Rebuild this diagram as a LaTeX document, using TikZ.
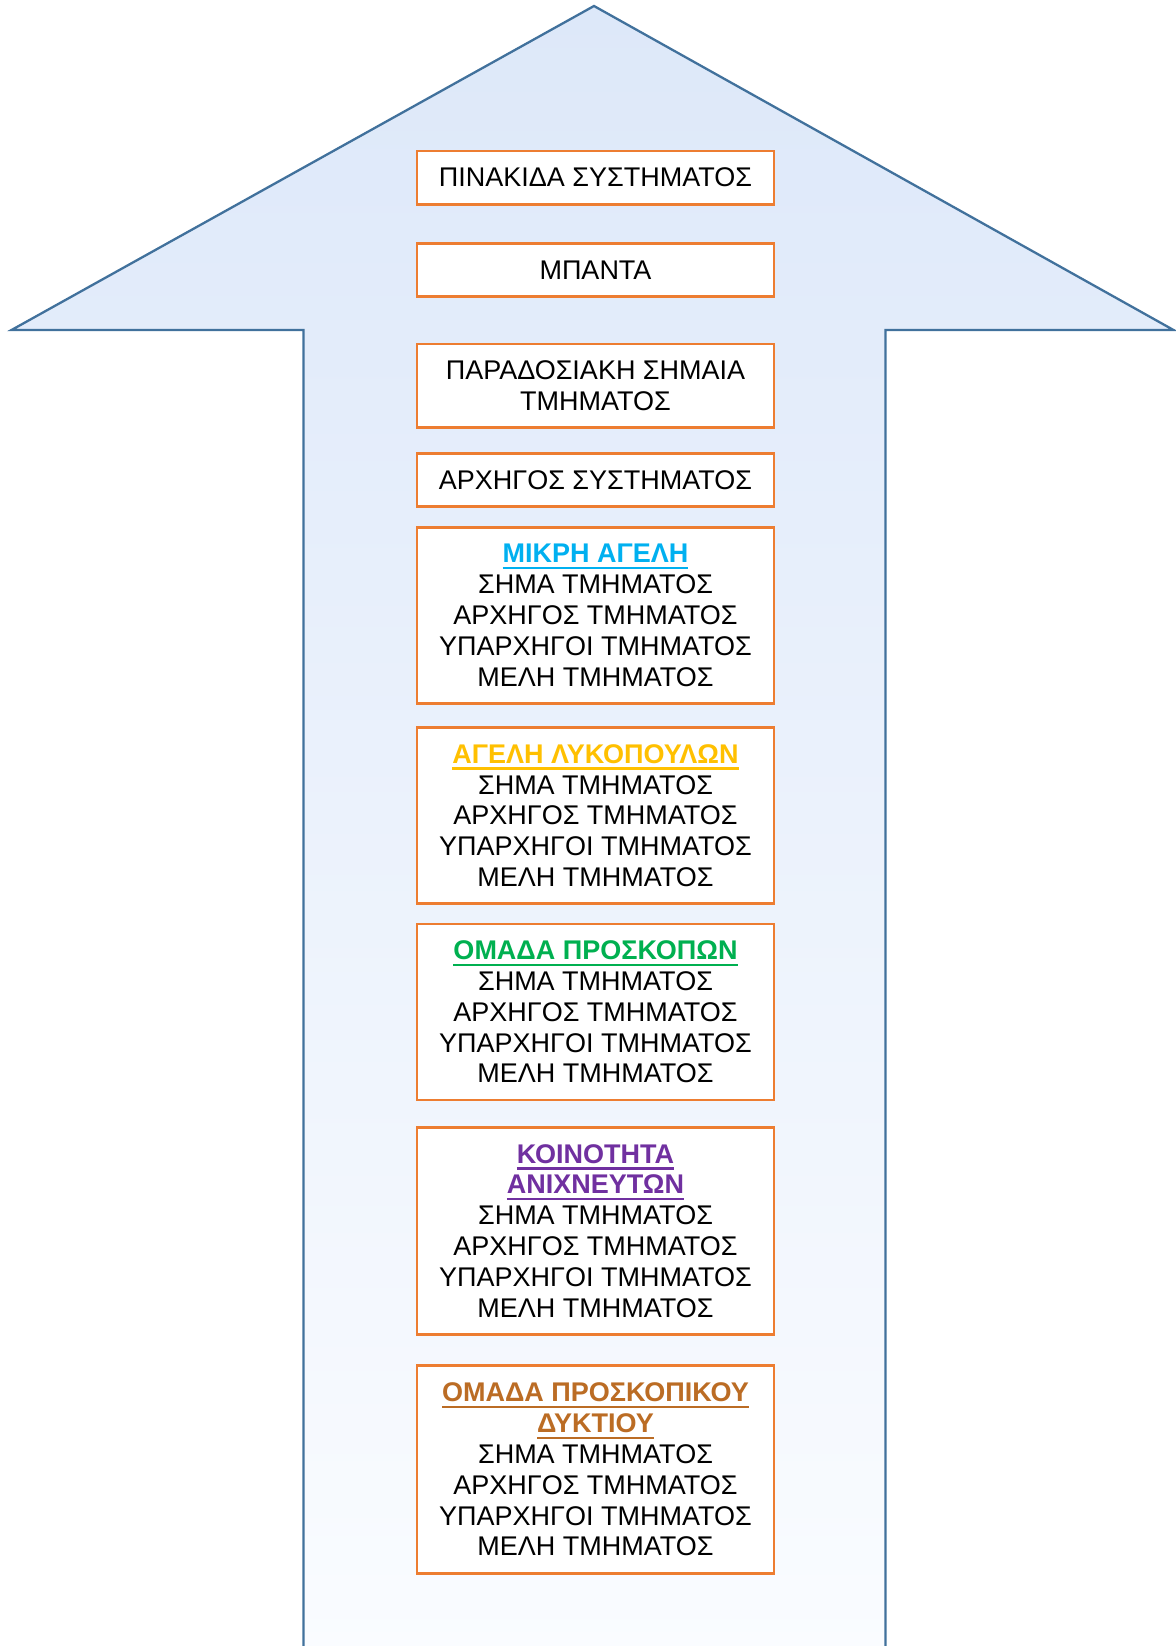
\documentclass[tikz,border=0pt]{standalone}
\usepackage{fontspec}
\setmainfont{Liberation Sans}
\definecolor{boxorange}{HTML}{ED7D31}
\definecolor{arrowline}{HTML}{41719C}
\definecolor{arrowtop}{RGB}{221,232,249}
\definecolor{arrowmid}{RGB}{190,213,245}
\definecolor{arrowbot}{RGB}{250,252,255}
\definecolor{tblue}{HTML}{00B0F0}
\definecolor{tgold}{HTML}{FFC000}
\definecolor{tgreen}{HTML}{00B050}
\definecolor{tpurple}{HTML}{7030A0}
\definecolor{tbrown}{RGB}{187,108,36}
\newcommand\myul[1]{\setbox0\hbox{#1}\leavevmode\rlap{\rule[-6.5pt]{\wd0}{2.4pt}}\box0}
\newcommand\ttl[2]{\textcolor{#1}{\bfseries\myul{#2}}}
\tikzset{
  infobox/.style={draw=boxorange, line width=2.5pt, fill=white, minimum width=357pt,
    inner sep=0pt, align=center, font=\fontsize{27}{30.8}\selectfont, anchor=center},
}
\begin{document}
\begin{tikzpicture}[x=1pt,y=-1pt]
\useasboundingbox (0,0) rectangle (1175,1646);
\shade[top color=arrowtop, middle color=arrowmid, bottom color=arrowbot]
  (303.5,1660) -- (303.5,330) -- (11.5,330) -- (594,6) -- (1173.5,330) -- (885.5,330) -- (885.5,1660) -- cycle;
\draw[arrowline, line width=2.3pt, line join=miter]
  (303.5,1660) -- (303.5,330) -- (11.5,330) -- (594,6) -- (1173.5,330) -- (885.5,330) -- (885.5,1660);

\node[infobox, minimum height=53.3pt] (b1) at (595.5,177.7) {ΠΙΝΑΚΙΔΑ ΣΥΣΤΗΜΑΤΟΣ};
\node[infobox, minimum height=53.4pt] (b2) at (595.5,270) {ΜΠΑΝΤΑ};
\node[infobox, minimum height=83.3pt] (b3) at (595.5,385.7) {ΠΑΡΑΔΟΣΙΑΚΗ ΣΗΜΑΙΑ\\ΤΜΗΜΑΤΟΣ};
\node[infobox, minimum height=53.4pt] (b4) at (595.5,480) {ΑΡΧΗΓΟΣ ΣΥΣΤΗΜΑΤΟΣ};
\node[infobox, minimum height=176pt] (b5) at (595.5,615.3)
  {\ttl{tblue}{ΜΙΚΡΗ ΑΓΕΛΗ}\\ΣΗΜΑ ΤΜΗΜΑΤΟΣ\\ΑΡΧΗΓΟΣ ΤΜΗΜΑΤΟΣ\\ΥΠΑΡΧΗΓΟΙ ΤΜΗΜΑΤΟΣ\\ΜΕΛΗ ΤΜΗΜΑΤΟΣ};
\node[infobox, minimum height=175.6pt] (b6) at (595.5,815.5)
  {\ttl{tgold}{ΑΓΕΛΗ ΛΥΚΟΠΟΥΛΩΝ}\\ΣΗΜΑ ΤΜΗΜΑΤΟΣ\\ΑΡΧΗΓΟΣ ΤΜΗΜΑΤΟΣ\\ΥΠΑΡΧΗΓΟΙ ΤΜΗΜΑΤΟΣ\\ΜΕΛΗ ΤΜΗΜΑΤΟΣ};
\node[infobox, minimum height=176pt] (b7) at (595.5,1012)
  {\ttl{tgreen}{ΟΜΑΔΑ ΠΡΟΣΚΟΠΩΝ}\\ΣΗΜΑ ΤΜΗΜΑΤΟΣ\\ΑΡΧΗΓΟΣ ΤΜΗΜΑΤΟΣ\\ΥΠΑΡΧΗΓΟΙ ΤΜΗΜΑΤΟΣ\\ΜΕΛΗ ΤΜΗΜΑΤΟΣ};
\node[infobox, minimum height=207pt] (b8) at (595.5,1230.8)
  {\ttl{tpurple}{ΚΟΙΝΟΤΗΤΑ}\\\ttl{tpurple}{ΑΝΙΧΝΕΥΤΩΝ}\\ΣΗΜΑ ΤΜΗΜΑΤΟΣ\\ΑΡΧΗΓΟΣ ΤΜΗΜΑΤΟΣ\\ΥΠΑΡΧΗΓΟΙ ΤΜΗΜΑΤΟΣ\\ΜΕΛΗ ΤΜΗΜΑΤΟΣ};
\node[infobox, minimum height=207.6pt] (b9) at (595.5,1469.5)
  {\ttl{tbrown}{ΟΜΑΔΑ ΠΡΟΣΚΟΠΙΚΟΥ}\\\ttl{tbrown}{ΔΥΚΤΙΟΥ}\\ΣΗΜΑ ΤΜΗΜΑΤΟΣ\\ΑΡΧΗΓΟΣ ΤΜΗΜΑΤΟΣ\\ΥΠΑΡΧΗΓΟΙ ΤΜΗΜΑΤΟΣ\\ΜΕΛΗ ΤΜΗΜΑΤΟΣ};
\end{tikzpicture}
\end{document}
